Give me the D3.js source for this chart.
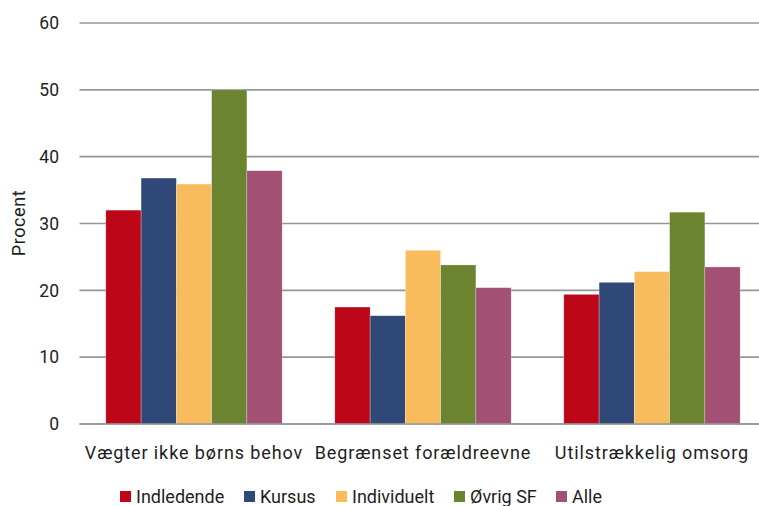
<!DOCTYPE html>
<html>
<head>
<meta charset="utf-8">
<script src="https://cdn.jsdelivr.net/npm/d3@7"></script>
<style>
  body { margin: 0; background: #fff; }
  text { font-family: Roboto, "DejaVu Sans", sans-serif; fill: #1e1e1e; }
</style>
</head>
<body>
<div id="chart"></div>
<script>
var width = 759, height = 506;

var categories = ["Vægter ikke børns behov", "Begrænset forældreevne", "Utilstrækkelig omsorg"];
var series = ["Indledende", "Kursus", "Individuelt", "Øvrig SF", "Alle"];
var colors = ["#bd0618", "#2f4877", "#f9bc5c", "#6b8430", "#a35075"];

var indledende = [32, 17.5, 19.4];
var kursus = [36.8, 16.2, 21.2];
var individuelt = [35.9, 26.0, 22.8];
var ovrigSF = [50, 23.8, 31.7];
var alle = [37.9, 20.4, 23.5];

var yTicks = [0, 10, 20, 30, 40, 50, 60];

var values = [indledende, kursus, individuelt, ovrigSF, alle];

var margin = {left: 79.5, right: -7.5, top: 23, bottom: 82};

var svg = d3.select("#chart").append("svg").attr("width", width).attr("height", height);

var x0 = d3.scaleBand()
    .domain(categories)
    .range([margin.left, width - margin.right])
    .paddingInner(0.23)
    .paddingOuter(0.115);

var x1 = d3.scaleBand()
    .domain(series)
    .range([0, x0.bandwidth()]);

var y = d3.scaleLinear()
    .domain([0, 60])
    .range([height - margin.bottom, margin.top]);

// grid lines
svg.append("g").selectAll("line")
    .data(yTicks)
    .enter().append("line")
    .attr("x1", margin.left)
    .attr("x2", width)
    .attr("y1", function(d){ return y(d); })
    .attr("y2", function(d){ return y(d); })
    .attr("stroke", "#969696")
    .attr("stroke-width", 1.6);

// y tick labels
svg.append("g").selectAll("text")
    .data(yTicks)
    .enter().append("text")
    .attr("x", 59)
    .attr("y", function(d){ return y(d); })
    .attr("dy", "0.36em")
    .attr("text-anchor", "end")
    .attr("font-size", 17.5)
    .text(function(d){ return d; });

svg.append("text")
    .attr("transform", "translate(25," + 223 + ") rotate(-90)")
    .attr("text-anchor", "middle")
    .attr("font-size", 18)
    .attr("letter-spacing", 0.6)
    .text("Procent");

// bars
var rows = [];
categories.forEach(function(c, ci){
    series.forEach(function(s, si){
        rows.push({cat: c, ser: s, value: values[si][ci], color: colors[si]});
    });
});

svg.append("g").selectAll("rect")
    .data(rows)
    .enter().append("rect")
    .attr("x", function(d){ return x0(d.cat) + x1(d.ser); })
    .attr("width", x1.bandwidth())
    .attr("y", function(d){ return y(d.value); })
    .attr("height", function(d){ return y(0) - y(d.value); })
    .attr("fill", function(d){ return d.color; })
    .attr("stroke", "rgba(255,255,255,0.45)")
    .attr("stroke-width", 0.6);

// baseline over bars
svg.append("line")
    .attr("x1", margin.left).attr("x2", width)
    .attr("y1", y(0)).attr("y2", y(0))
    .attr("stroke", "#969696").attr("stroke-width", 1.6);

// category labels
svg.append("g").selectAll("text")
    .data(categories)
    .enter().append("text")
    .attr("x", function(d){ return x0(d) + x0.bandwidth() / 2; })
    .attr("y", 459)
    .attr("text-anchor", "middle")
    .attr("font-size", 18)
    .attr("letter-spacing", 0.9)
    .text(function(d){ return d; });

// legend
var legendX = [120, 244, 336, 454, 556];
var legend = svg.append("g").selectAll("g")
    .data(series)
    .enter().append("g")
    .attr("transform", function(d, i){ return "translate(" + legendX[i] + ",491)"; });

legend.append("rect")
    .attr("width", 11).attr("height", 11)
    .attr("fill", function(d, i){ return colors[i]; });

legend.append("text")
    .attr("x", 16)
    .attr("y", 12)
    .attr("font-size", 18)
    .text(function(d){ return d; });
</script>
</body>
</html>
